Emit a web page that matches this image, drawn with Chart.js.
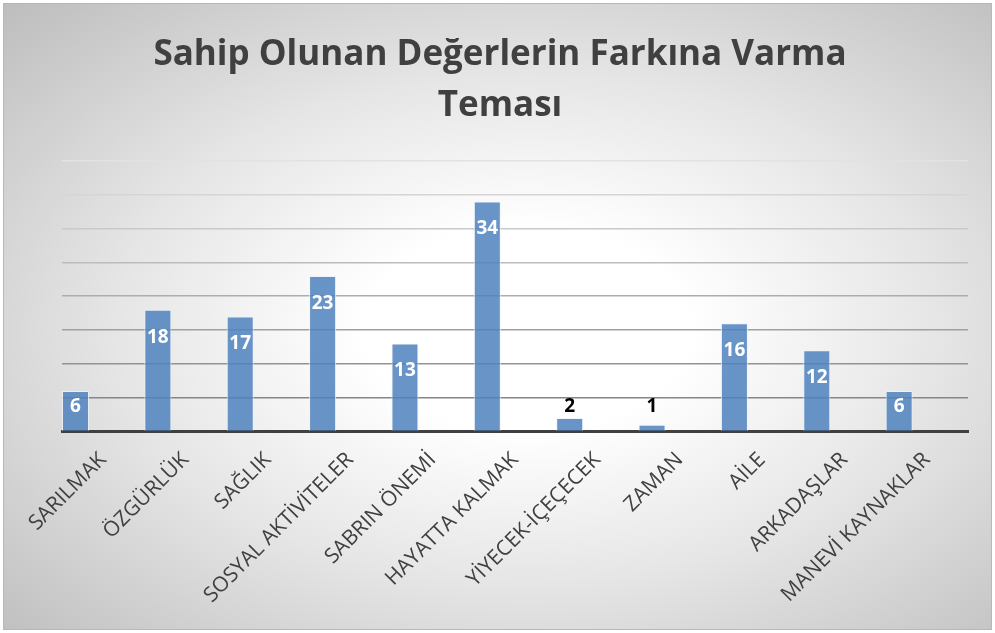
<!DOCTYPE html>
<html>
<head>
<meta charset="utf-8">
<script src="https://cdn.jsdelivr.net/npm/chart.js@4.4.1/dist/chart.umd.min.js"></script>
<style>
  html, body { margin: 0; padding: 0; background: #ffffff; }
  #wrap { position: relative; width: 995px; height: 633px; overflow: hidden; }
  #bg {
    position: absolute; left: 3px; top: 3px; width: 987px; height: 625px;
    border: 1px solid #b8b8b8;
    background: radial-gradient(ellipse farthest-corner at 53% 52%, #ffffff 0%, #ffffff 22%, #e6e6e6 55%, #bdbdbd 100%);
  }
  #c { position: absolute; left: 0; top: 0; }
</style>
</head>
<body>
<div id="wrap">
  <div id="bg"></div>
  <canvas id="c" width="995" height="633"></canvas>
</div>
<script>
const titleLines = ['Sahip Olunan Değerlerin Farkına Varma', 'Teması'];
const categories = ['SARILMAK', 'ÖZGÜRLÜK', 'SAĞLIK', 'SOSYAL AKTİVİTELER', 'SABRIN ÖNEMİ', 'HAYATTA KALMAK', 'YİYECEK-İÇEÇECEK', 'ZAMAN', 'AİLE', 'ARKADAŞLAR', 'MANEVİ KAYNAKLAR'];
const values = [6, 18, 17, 23, 13, 34, 2, 1, 16, 12, 6];
// second (empty) series of the original clustered column chart
const emptySeries = [null, null, null, null, null, null, null, null, null, null, null];
const yMin = 0;
const yMax = 40;
const yStep = 5;

const gridShade = { 5: '#868686', 10: '#939393', 15: '#a0a0a0', 20: '#adadad', 25: '#bcbcbc', 30: '#c9c9c9', 35: '#d5d5d5', 40: '#e2e2e2' };

const valueLabels = {
  id: 'valueLabels',
  afterDatasetsDraw(chart) {
    const ctx = chart.ctx;
    const meta = chart.getDatasetMeta(0);
    ctx.save();
    ctx.font = 'bold 19px "Open Sans"';
    ctx.textAlign = 'center';
    ctx.textBaseline = 'middle';
    meta.data.forEach((bar, i) => {
      const top = bar.y, base = bar.base;
      const y = Math.min(top + 27.5, base - 24.5);
      ctx.fillStyle = (y - 9 < top) ? '#000000' : '#ffffff';
      ctx.fillText(String(values[i]), bar.x, y);
    });
    ctx.restore();
  }
};

new Chart(document.getElementById('c'), {
  type: 'bar',
  data: {
    labels: categories,
    datasets: [
      {
        data: values,
        backgroundColor: 'rgba(79,129,189,0.85)',
        borderColor: 'rgba(235,242,250,0.8)',
        borderWidth: 1,
        categoryPercentage: 1.344,
        barPercentage: 0.488
      },
      {
        data: emptySeries,
        backgroundColor: 'rgba(192,80,77,0.85)',
        categoryPercentage: 1.344,
        barPercentage: 0.488
      }
    ]
  },
  options: {
    responsive: false,
    animation: false,
    devicePixelRatio: 1,
    layout: { padding: { left: 32, right: 27, top: 0, bottom: 0 } },
    plugins: {
      legend: { display: false },
      tooltip: { enabled: false },
      title: {
        display: true,
        text: titleLines,
        color: '#404040',
        font: { family: '"Open Sans"', size: 35, weight: 'bold', lineHeight: 1.457 },
        padding: { top: 29.5, bottom: 29.5 }
      }
    },
    scales: {
      x: {
        z: 1,
        grid: { display: false, drawTicks: false },
        border: { display: true, color: '#404040', width: 3 },
        ticks: {
          color: '#404040',
          font: { family: '"Open Sans"', size: 21 },
          minRotation: 45,
          maxRotation: 45,
          autoSkip: false,
          padding: 16
        },
        afterFit(scale) { scale.height = 201.5; }
      },
      y: {
        min: yMin,
        max: yMax,
        ticks: { display: false, stepSize: yStep },
        grid: {
          drawTicks: false,
          lineWidth: 1.5,
          color: (ctx) => gridShade[ctx.tick ? ctx.tick.value : 0] || '#808080'
        },
        border: { display: false },
        afterFit(scale) { scale.width = 30; }
      }
    }
  },
  plugins: [valueLabels]
});
</script>
</body>
</html>
